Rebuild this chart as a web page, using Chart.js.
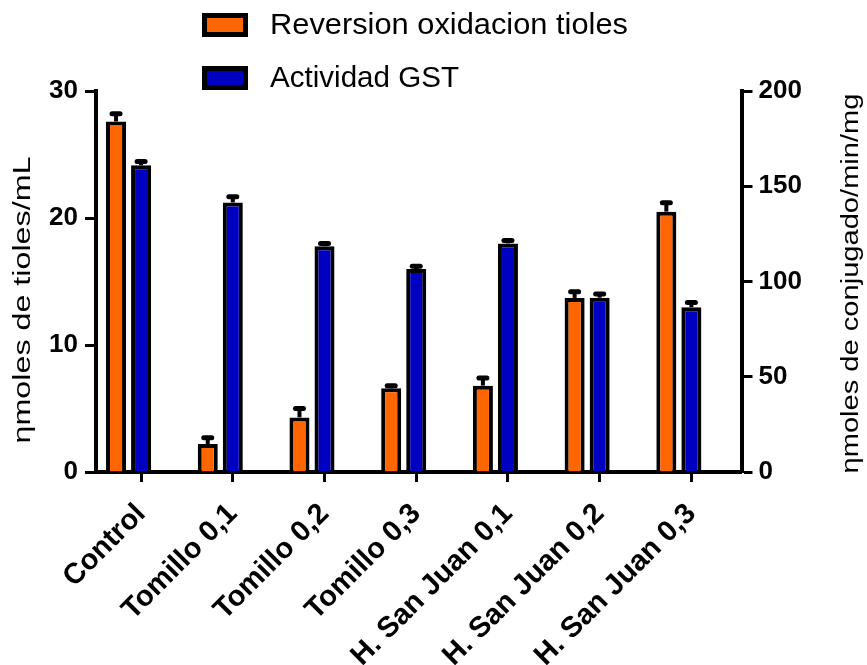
<!DOCTYPE html>
<html>
<head>
<meta charset="utf-8">
<script src="https://cdn.jsdelivr.net/npm/chart.js@4.4.1/dist/chart.umd.min.js"></script>
<style>
  html, body { margin: 0; padding: 0; background: #ffffff; }
  canvas { display: block; }
</style>
</head>
<body>
<canvas id="chart" width="867" height="665"></canvas>
<script>
// Treatment groups along the x axis
const categories = ['Control', 'Tomillo 0,1', 'Tomillo 0,2', 'Tomillo 0,3',
                    'H. San Juan 0,1', 'H. San Juan 0,2', 'H. San Juan 0,3'];

// Thiol oxidation reversal (left axis, ηmoles de tioles/mL) and its upper error
const tioles    = [27.6, 2.2, 4.3, 6.6, 6.8, 13.7, 20.5];
const tiolesErr = [0.6, 0.5, 0.7, 0.2, 0.6, 0.5, 0.7];

// GST activity (right axis, ηmoles de conjugado/min/mg) and its upper error
const gst    = [161, 141.5, 118.5, 106.5, 120, 91.5, 86.5];
const gstErr = [2, 3, 1.5, 1.5, 1.5, 2, 2.5];

// Axis tick values
const leftTicks  = [0, 10, 20, 30];
const rightTicks = [0, 50, 100, 150, 200];

const FONT = "'Liberation Sans', Arial, Helvetica, sans-serif";
const ORANGE = '#FF6600';
const BLUE = '#0000C0';
const TICK_SHIFT = 0.137; // category tick sits under the second bar of each group

// Upper error bars: a stem from the bar top to value + error, capped
const errorBars = {
  id: 'errorBars',
  afterDatasetsDraw(chart) {
    const ctx = chart.ctx;
    chart.data.datasets.forEach((ds, di) => {
      const meta = chart.getDatasetMeta(di);
      const yScale = chart.scales[ds.yAxisID];
      meta.data.forEach((bar, i) => {
        const v = ds.data[i].y;
        const yTop = yScale.getPixelForValue(v + ds.errors[i]);
        ctx.save();
        ctx.strokeStyle = '#000';
        ctx.lineWidth = 4;
        ctx.beginPath();
        ctx.moveTo(bar.x, bar.y);
        ctx.lineTo(bar.x, yTop);
        ctx.stroke();
        ctx.lineCap = 'round';
        ctx.lineWidth = 5;
        ctx.beginPath();
        ctx.moveTo(bar.x - 4, yTop);
        ctx.lineTo(bar.x + 4, yTop);
        ctx.stroke();
        ctx.restore();
      });
    });
  }
};

// Draws text stretched along its length to a given span; vertical text reads bottom-to-top
function spanText(ctx, text, cx, cy, span, vertical) {
  const w = ctx.measureText(text).width;
  ctx.save();
  ctx.translate(cx, cy);
  if (vertical) ctx.rotate(-Math.PI / 2);
  ctx.scale(span / w, 1);
  ctx.fillText(text, 0, 0);
  ctx.restore();
}

// Legend stacked in two rows above the plot, plus both axis titles
const legendRows = [
  { y: 25, span: 358 },
  { y: 78, span: 189 }
];

const decorations = {
  id: 'decorations',
  afterDraw(chart) {
    const ctx = chart.ctx;
    const area = chart.chartArea;
    ctx.save();
    ctx.textBaseline = 'middle';
    ctx.textAlign = 'left';
    ctx.font = '29px ' + FONT;
    chart.data.datasets.forEach((ds, i) => {
      const row = legendRows[i];
      ctx.fillStyle = '#000';
      ctx.fillRect(202, row.y - 12, 46, 24);
      ctx.fillStyle = ds.backgroundColor;
      ctx.fillRect(207, row.y - 7, 36, 14);
      ctx.fillStyle = '#000';
      spanText(ctx, ds.label, 270, row.y + 1, row.span, false);
    });

    ctx.font = '23px ' + FONT;
    ctx.textAlign = 'center';
    spanText(ctx, chart.options.scales.y.title.text, 24, 300, 287, true);
    spanText(ctx, chart.options.scales.y1.title.text, 852, (area.top + area.bottom) / 2 + 2, 380, true);
    ctx.restore();
  }
};

const barStyle = {
  borderColor: '#000',
  borderWidth: 4,
  borderSkipped: 'start',
  categoryPercentage: 0.546,
  barPercentage: 0.8
};

new Chart(document.getElementById('chart'), {
  type: 'bar',
  data: {
    datasets: [
      Object.assign({
        label: 'Reversion oxidacion tioles',
        data: tioles.map((v, i) => ({ x: i, y: v })),
        errors: tiolesErr,
        backgroundColor: ORANGE,
        yAxisID: 'y'
      }, barStyle),
      Object.assign({
        label: 'Actividad GST',
        data: gst.map((v, i) => ({ x: i, y: v })),
        errors: gstErr,
        backgroundColor: BLUE,
        yAxisID: 'y1'
      }, barStyle)
    ]
  },
  options: {
    responsive: false,
    animation: false,
    events: [],
    layout: { padding: { top: 91, left: 0, right: 0, bottom: 0 } },
    plugins: {
      legend: { display: false },
      tooltip: { enabled: false }
    },
    scales: {
      x: {
        type: 'linear',
        offset: false,
        min: -0.355,
        max: 6.683,
        afterBuildTicks(scale) {
          scale.ticks = categories.map((_, i) => ({ value: i + TICK_SHIFT }));
        },
        afterFit(scale) { scale.height = 193; },
        grid: {
          display: true,
          offset: false,
          drawOnChartArea: false,
          drawTicks: true,
          tickLength: 10,
          tickWidth: 3,
          color: '#000'
        },
        border: { display: true, color: '#000', width: 4 },
        ticks: {
          autoSkip: false,
          maxRotation: 45,
          minRotation: 45,
          padding: 15,
          color: '#000',
          font: { family: FONT, size: 29, weight: 'bold' },
          callback: (value) => categories[Math.round(value - TICK_SHIFT)]
        }
      },
      y: {
        position: 'left',
        min: 0,
        max: 30,
        afterBuildTicks(scale) {
          scale.ticks = leftTicks.map(v => ({ value: v }));
        },
        afterFit(scale) { scale.width = 96; },
        title: { display: false, text: 'ηmoles de tioles/mL' },
        grid: {
          display: true,
          drawOnChartArea: false,
          drawTicks: true,
          tickLength: 11,
          tickWidth: 3,
          color: '#000'
        },
        border: { display: true, color: '#000', width: 4 },
        ticks: {
          padding: 7,
          color: '#000',
          font: { family: FONT, size: 26, weight: 'bold' }
        }
      },
      y1: {
        position: 'right',
        min: 0,
        max: 200,
        afterBuildTicks(scale) {
          scale.ticks = rightTicks.map(v => ({ value: v }));
        },
        afterFit(scale) { scale.width = 125.5; },
        title: { display: false, text: 'ηmoles de conjugado/min/mg' },
        grid: {
          display: true,
          drawOnChartArea: false,
          drawTicks: true,
          tickLength: 11,
          tickWidth: 3,
          color: '#000'
        },
        border: { display: true, color: '#000', width: 4 },
        ticks: {
          padding: 6,
          color: '#000',
          font: { family: FONT, size: 26, weight: 'bold' }
        }
      }
    }
  },
  plugins: [errorBars, decorations]
});
</script>
</body>
</html>
